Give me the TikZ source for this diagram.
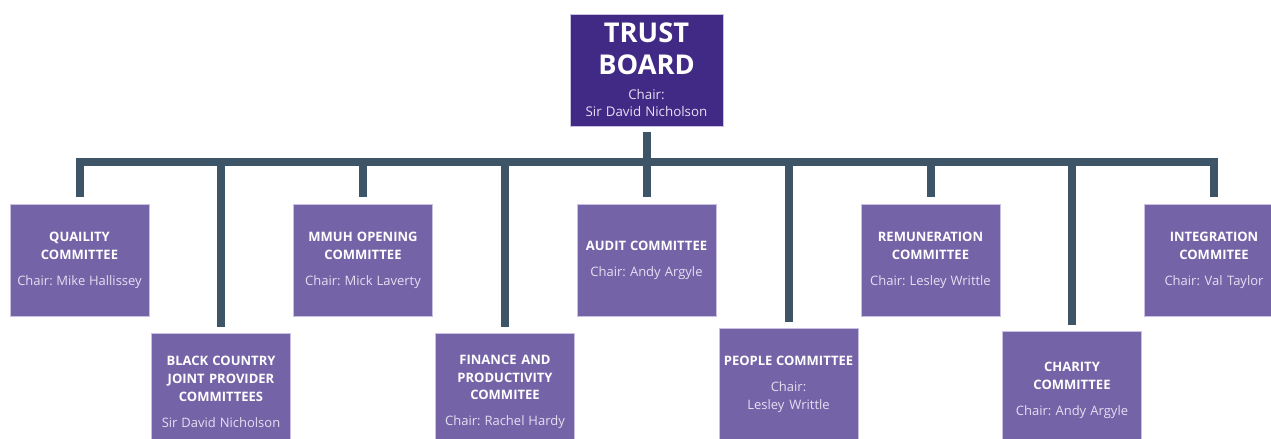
\documentclass[tikz,border=0pt]{standalone}
\usepackage{fontspec}
\setmainfont{Open Sans}
\usetikzlibrary{positioning}
\definecolor{boardfill}{HTML}{412A86}
\definecolor{cttfill}{HTML}{7563A8}
\definecolor{rim}{HTML}{C9C0E2}
\definecolor{wirecol}{HTML}{3D5566}
\definecolor{chairtxt}{HTML}{E4DFF1}

\tikzset{
  boardbox/.style={draw=rim,line width=0.5pt,fill=boardfill,text=white,text width=2.9cm,align=center,minimum width=3.06cm,minimum height=2.24cm,inner sep=0pt},
  cttbox/.style={draw=rim,line width=0.5pt,fill=cttfill,text=white,text width=2.7cm,align=center,minimum width=2.78cm,minimum height=2.24cm,inner sep=0pt,font=\fontsize{7.4}{10.2}\selectfont},
  lowbox/.style={cttbox,anchor=north,minimum height=2.34cm},
  wire/.style={draw=wirecol,line width=0.16cm,line join=miter},
}
% natural word spaces inside the boxes
\newcommand{\tightspace}{\frenchspacing\spaceskip=0pt\xspaceskip=0pt\relax}
\newcommand{\cttlabel}[2]{\tightspace{\bfseries #1\par}\vspace{4.6pt}{\color{chairtxt}#2\par}}

\begin{document}
\begin{tikzpicture}[x=0.02cm,y=0.02cm]
\useasboundingbox (0,0) rectangle (1271,439);
% board at the top
\node[boardbox] (trust) at (646.5,369) {\tightspace{\fontsize{15.5}{18.2}\selectfont\bfseries TRUST\\BOARD\par}\vspace{4.5pt}{\fontsize{7.6}{9.6}\selectfont\color{chairtxt}Chair:\\Sir David Nicholson\par}};
% committees, upper row
\node[cttbox] (quality) at (79.5,179) {\cttlabel{QUAILITY\\COMMITTEE}{Chair: Mike Hallissey}};
\node[cttbox] (mmuh) at (363,179) {\cttlabel{MMUH OPENING\\COMMITTEE}{Chair: Mick Laverty}};
\node[cttbox] (audit) at (646.5,179) {\cttlabel{AUDIT COMMITTEE}{Chair: Andy Argyle}};
\node[cttbox] (remun) at (930.5,179) {\cttlabel{REMUNERATION\\COMMITTEE}{Chair: Lesley Writtle}};
\node[cttbox] (integ) at (1214,179) {\cttlabel{INTEGRATION\\COMMITEE}{Chair: Val Taylor}};
% committees, lower row
\node[lowbox] (blackc) at (221,106) {\cttlabel{BLACK COUNTRY\\JOINT PROVIDER\\COMMITTEES}{Sir David Nicholson}};
\node[lowbox] (finance) at (505,106) {\cttlabel{FINANCE AND\\PRODUCTIVITY\\COMMITEE}{Chair: Rachel Hardy}};
\node[lowbox,minimum height=2.24cm] (people) at (788.5,111) {\cttlabel{PEOPLE COMMITTEE}{Chair:\\Lesley Writtle}};
\node[lowbox] (charity) at (1072,108) {\cttlabel{CHARITY\\COMMITTEE}{Chair: Andy Argyle}};
% bus bar and drops
\coordinate (bus) at (646.5,277);
\draw[wire] ([yshift=-0.12cm]trust.south) -- (bus);
\draw[wire] ([yshift=0.14cm]quality.north) |- (bus) -| ([yshift=0.14cm]integ.north);
\foreach \c in {mmuh,audit,remun}{\draw[wire] ([yshift=0.14cm]\c.north) -- (\c.north |- bus);}
\foreach \c in {blackc,finance,people,charity}{\draw[wire] ([yshift=0.12cm]\c.north) -- (\c.north |- bus);}
\end{tikzpicture}
\end{document}
